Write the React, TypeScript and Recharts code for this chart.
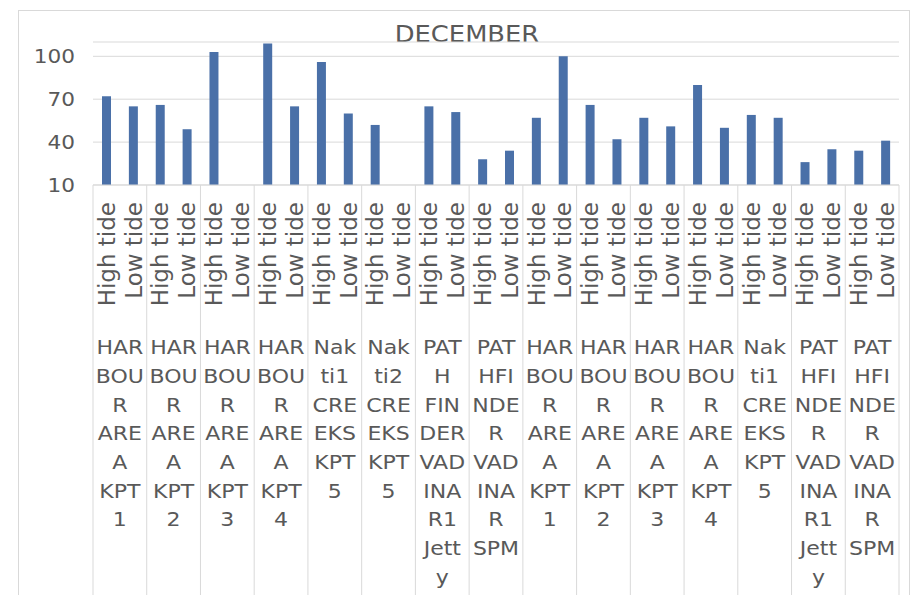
import React from "react";
import { BarChart, Bar, XAxis, YAxis, CartesianGrid } from "recharts";

const title = "DECEMBER";
const groupNames = [
  "HARBOUR AREA KPT 1",
  "HARBOUR AREA KPT 2",
  "HARBOUR AREA KPT 3",
  "HARBOUR AREA KPT 4",
  "Nakti1 CREEKS KPT 5",
  "Nakti2 CREEKS KPT 5",
  "PATH FINDER VADINAR1 Jetty",
  "PATHFINDER VADINAR SPM",
  "HARBOUR AREA KPT 1",
  "HARBOUR AREA KPT 2",
  "HARBOUR AREA KPT 3",
  "HARBOUR AREA KPT 4",
  "Nakti1 CREEKS KPT 5",
  "PATHFINDER VADINAR1 Jetty",
  "PATHFINDER VADINAR SPM",
];
const tideLabels = ["High tide", "Low tide"];
const highTide = [72, 66, 103, 109, 96, 52, 65, 28, 57, 66, 57, 80, 59, 26, 34];
const lowTide: (number | null)[] = [65, 49, null, 65, 60, null, 61, 34, 100, 42, 51, 50, 57, 35, 41];
const yTicks = [10, 40, 70, 100];
const yDomain = [10, 110];

const data = groupNames.flatMap((g, i) => [
  { group: g, tide: tideLabels[0], value: highTide[i] },
  { group: g, tide: tideLabels[1], value: lowTide[i] },
]);

const W = 917;
const H = 595;
const LEFT = 93;
const RIGHT = 18;
const TOP = 42;
const PLOT_BOTTOM = 185;
const SLOT = (W - LEFT - RIGHT) / data.length;
const TEXT = "#595959";
const LINE = "#d9d9d9";
const FONT = "'DejaVu Sans', sans-serif";

const charW = (c: string) => {
  if ("MW".includes(c)) return 0.75;
  if ("IJ".includes(c)) return 0.3;
  if (/[A-Z]/.test(c)) return 0.65;
  if ("ilj".includes(c)) return 0.3;
  if ("tfr".includes(c)) return 0.35;
  if (/[0-9]/.test(c)) return 0.6;
  if (c === " ") return 0.3;
  return 0.55;
};
const strW = (s: string) => s.split("").reduce((a, c) => a + charW(c), 0);
const CAP = 2.06;

function wrap(label: string): string[] {
  const lines: string[] = [];
  let cur = "";
  for (const word of label.split(" ")) {
    if (cur && strW(cur + " " + word) <= CAP) {
      cur = cur + " " + word;
      continue;
    }
    if (cur) lines.push(cur);
    cur = "";
    let w = word;
    while (strW(w) > CAP) {
      let k = 1;
      while (k < w.length && strW(w.slice(0, k + 1)) <= CAP) k++;
      lines.push(w.slice(0, k));
      w = w.slice(k);
    }
    cur = w;
  }
  if (cur) lines.push(cur);
  return lines;
}

const XTick = (props: any) => {
  const { x, payload } = props;
  const idx = payload.index as number;
  const isFirst = idx % 2 === 0;
  const gi = Math.floor(idx / 2);
  const groupCx = x + SLOT / 2;
  const lines = wrap(groupNames[gi]);
  return (
    <g>
      <text
        transform={`translate(${x},202) rotate(-90)`}
        x={0}
        y={0}
        dy="0.36em"
        textAnchor="end"
        fontSize={23}
        fontFamily={FONT}
        fill={TEXT}
      >
        {payload.value}
      </text>
      {isFirst && (
        <>
          <line x1={x - SLOT / 2} x2={x - SLOT / 2} y1={PLOT_BOTTOM} y2={H} stroke={LINE} strokeWidth={1} />
          {lines.map((ln, k) => (
            <text
              key={k}
              transform={`translate(${groupCx},${347 + k * 28.7}) scale(1.1,1)`}
              x={0}
              y={0}
              dy="0.36em"
              textAnchor="middle"
              fontSize={20}
              fontFamily={FONT}
              fill={TEXT}
            >
              {ln}
            </text>
          ))}
        </>
      )}
      {idx === data.length - 1 && (
        <line x1={x + SLOT / 2} x2={x + SLOT / 2} y1={PLOT_BOTTOM} y2={H} stroke={LINE} strokeWidth={1} />
      )}
    </g>
  );
};

const YTick = (props: any) => {
  const { y, payload } = props;
  return (
    <text
      x={LEFT - 18}
      y={y}
      dy="0.36em"
      textAnchor="end"
      fontSize={20}
      fontFamily={FONT}
      fill={TEXT}
      transform={`translate(${LEFT - 18},0) scale(1.08,1) translate(${-(LEFT - 18)},0)`}
    >
      {payload.value}
    </text>
  );
};

export default function App() {
  return (
    <div style={{ position: "absolute", left: 0, top: 0, width: W, height: H, background: "#fff", overflow: "hidden" }}>
      <div
        style={{
          position: "absolute",
          left: 18,
          top: 10,
          width: 892,
          height: 600,
          border: `1px solid ${LINE}`,
          boxSizing: "border-box",
        }}
      />
      <div
        style={{
          position: "absolute",
          left: 0,
          width: 934,
          top: 20,
          textAlign: "center",
          fontFamily: FONT,
          fontSize: 23,
          color: TEXT,
          transform: "scaleX(1.12)",
          lineHeight: "28px",
        }}
      >
        {title}
      </div>
      <div style={{ position: "absolute", left: 0, top: 0 }}>
        <BarChart width={W} height={H} data={data} margin={{ top: TOP, right: RIGHT, bottom: 0, left: 0 }} barSize={9}>
          <CartesianGrid horizontal vertical={false} stroke={LINE} />
          <XAxis
            dataKey="tide"
            interval={0}
            height={H - PLOT_BOTTOM}
            tickLine={false}
            axisLine={{ stroke: LINE }}
            tick={<XTick />}
          />
          <YAxis
            width={LEFT}
            domain={yDomain}
            ticks={yTicks}
            allowDataOverflow
            axisLine={false}
            tickLine={false}
            tick={<YTick />}
          />
          <Bar dataKey="value" fill="#4a70a8" isAnimationActive={false} />
        </BarChart>
      </div>
    </div>
  );
}
